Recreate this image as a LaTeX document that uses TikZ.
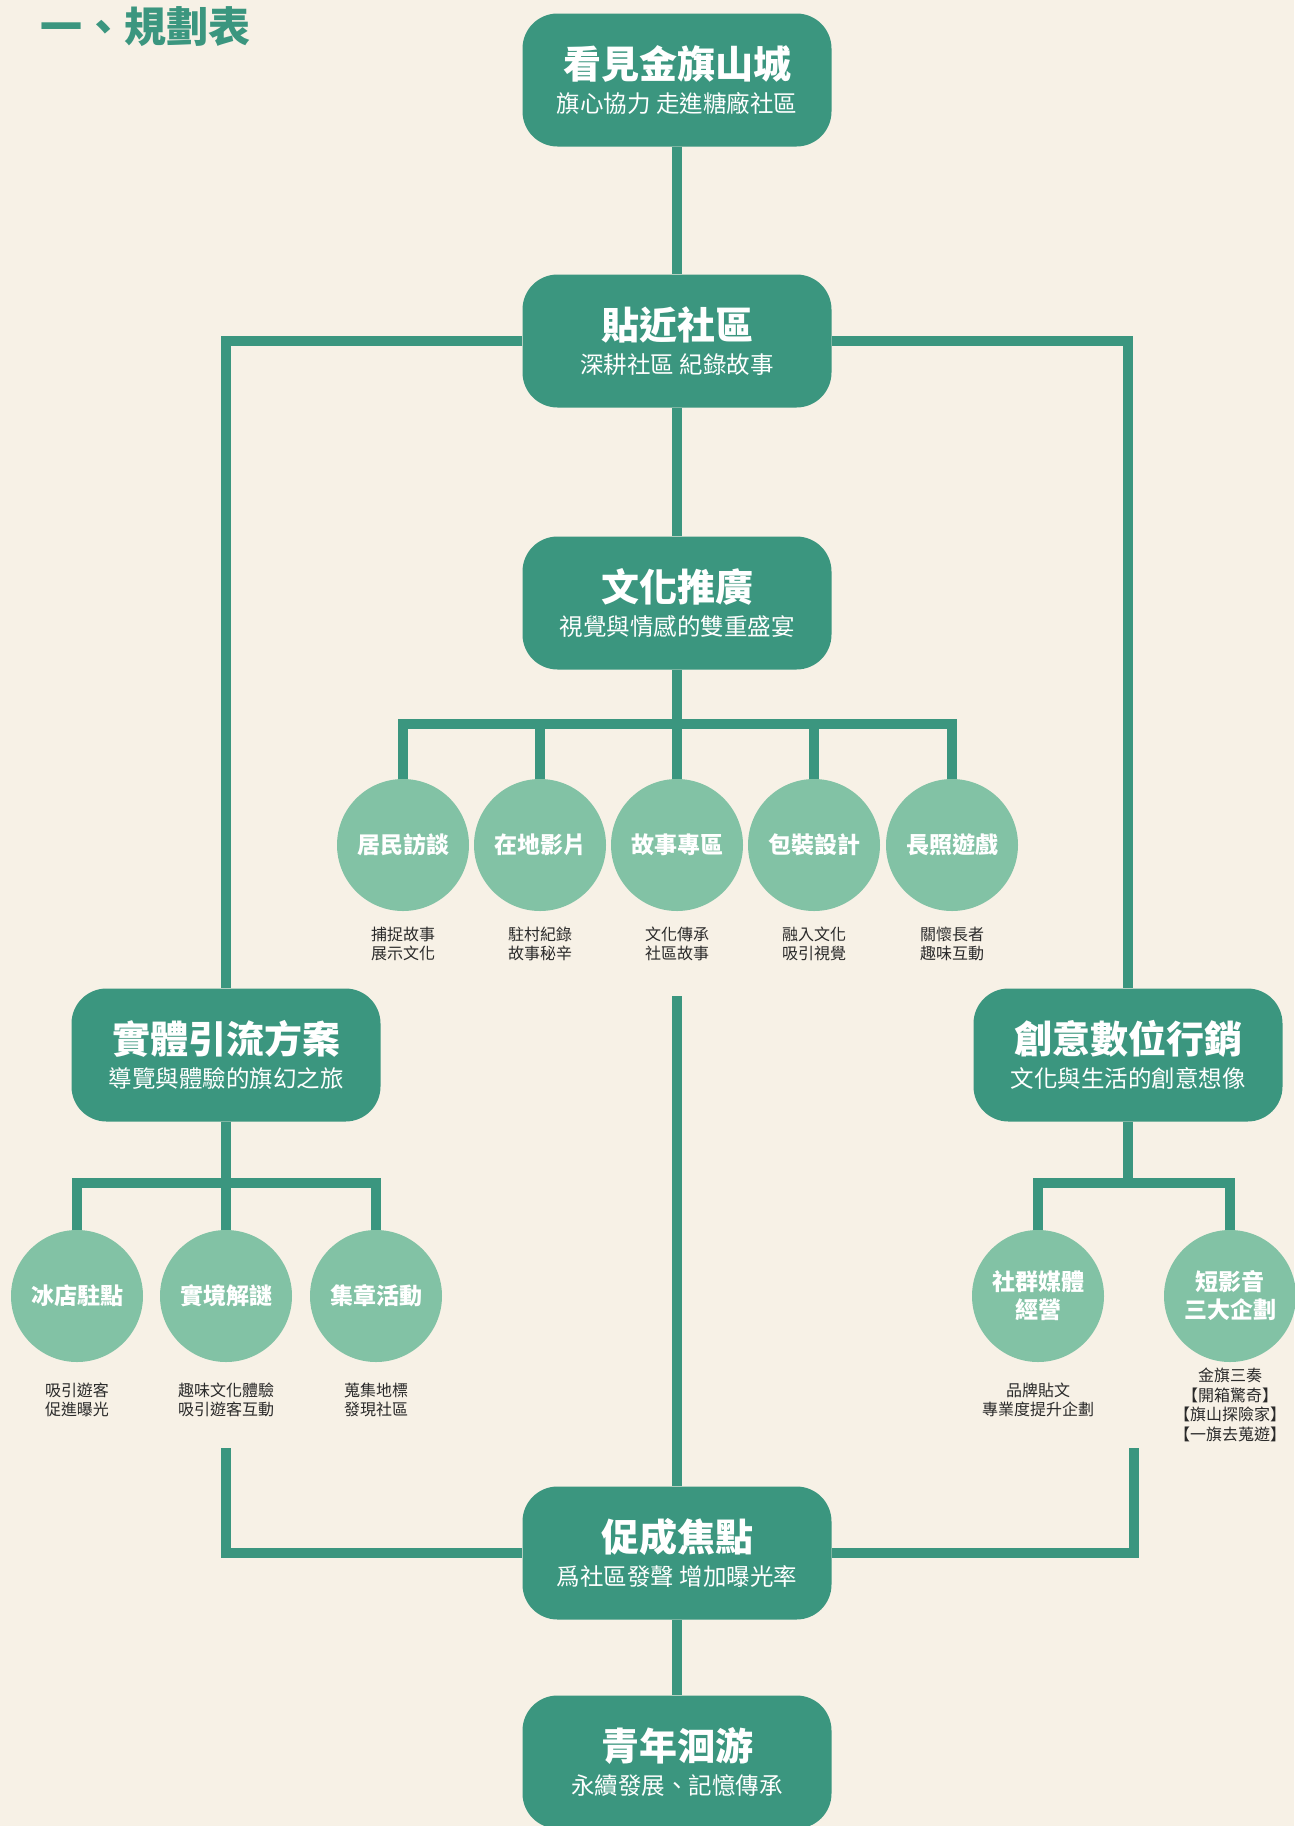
\documentclass[tikz,border=0pt]{standalone}
\usepackage{fontspec}
\usetikzlibrary{backgrounds}
\setmainfont{Noto Sans CJK TC}
\definecolor{bg}{HTML}{F7F1E6}
\definecolor{tealbox}{HTML}{3B967F}
\definecolor{mint}{HTML}{82C2A5}
\definecolor{ink}{HTML}{2A2A2A}
\newcommand{\bxtext}[2]{{\fontsize{38}{42}\selectfont\bfseries #1}\\[9pt]{\fontsize{23.5}{27}\selectfont #2}}
\begin{document}
\begin{tikzpicture}[x=1pt,y=-1pt,
  box/.style={fill=tealbox, rounded corners=35pt, minimum width=309pt, minimum height=133pt, text=white, align=center, inner sep=0pt},
  circ/.style={circle, fill=mint, minimum size=132pt, inner sep=0pt, text=white, align=center, font=\bfseries\fontsize{23}{28}\selectfont},
  desc/.style={text=ink, align=center, font=\fontsize{16}{19.5}\selectfont},
  conn/.style={draw=tealbox, line width=9.5pt}]
\useasboundingbox (0,0) rectangle (1294,1826);
\begin{scope}[on background layer]
\fill[bg] (0,0) rectangle (1294,1826);
\end{scope}

% title
\node[anchor=west, text=tealbox, inner sep=0pt, font=\bfseries\fontsize{42}{46}\selectfont] (title) at (40,27) {一、規劃表};

% main boxes
\node[box] (top) at (677,80) {\bxtext{看見金旗山城}{旗心協力 走進糖廠社區}};
\node[box] (near) at (677,341) {\bxtext{貼近社區}{深耕社區 紀錄故事}};
\node[box] (culture) at (677,603) {\bxtext{文化推廣}{視覺與情感的雙重盛宴}};
\node[box] (phys) at (226,1055) {\bxtext{實體引流方案}{導覽與體驗的旗幻之旅}};
\node[box] (digi) at (1128,1055) {\bxtext{創意數位行銷}{文化與生活的創意想像}};
\node[box] (focus) at (677,1553) {\bxtext{促成焦點}{爲社區發聲 增加曝光率}};
\node[box] (youth) at (677,1762) {\bxtext{青年洄游}{永續發展、記憶傳承}};

% culture circles
\node[circ] (c1) at (403,845) {居民訪談};
\node[circ] (c2) at (540,845) {在地影片};
\node[circ] (c3) at (677,845) {故事專區};
\node[circ] (c4) at (814,845) {包裝設計};
\node[circ] (c5) at (952,845) {長照遊戲};
\node[desc] (d1) at (403,944) {捕捉故事\\展示文化};
\node[desc] (d2) at (540,944) {駐村紀錄\\故事秘辛};
\node[desc] (d3) at (677,944) {文化傳承\\社區故事};
\node[desc] (d4) at (814,944) {融入文化\\吸引視覺};
\node[desc] (d5) at (952,944) {關懷長者\\趣味互動};

% physical circles
\node[circ] (p1) at (77,1296) {冰店駐點};
\node[circ] (p2) at (226,1296) {實境解謎};
\node[circ] (p3) at (376,1296) {集章活動};
\node[desc] (e1) at (77,1400) {吸引遊客\\促進曝光};
\node[desc] (e2) at (226,1400) {趣味文化體驗\\吸引遊客互動};
\node[desc] (e3) at (376,1400) {蒐集地標\\發現社區};

% digital circles
\node[circ] (g1) at (1038,1296) {社群媒體\\經營};
\node[circ] (g2) at (1230,1296) {短影音\\三大企劃};
\node[desc] (f1) at (1038,1400) {品牌貼文\\專業度提升企劃};
\node[desc] (f2) at (1230,1405) {金旗三奏\\【開箱驚奇】\\【旗山探險家】\\【一旗去蒐遊】};

% coordinates
\coordinate (bar1) at (677,724);
\coordinate (bar2) at (226,1183);
\coordinate (bar3) at (1128,1183);
\coordinate (cs) at (677,996);
\coordinate (ls) at (226,1448);
\coordinate (rs) at (1134,1448);

% connectors
\begin{scope}[on background layer]
\draw[conn] (top.south) -- (near.north);
\draw[conn] (near.south) -- (culture.north);
\draw[conn] (culture.south) -- (c3.north);
\draw[conn] (c1.north) |- (bar1) -| (c5.north);
\draw[conn] (c2.north) -- (c2.north |- bar1);
\draw[conn] (c4.north) -- (c4.north |- bar1);
\draw[conn] (near.west) -| (phys.north);
\draw[conn] (near.east) -| (digi.north);
\draw[conn] (phys.south) -- (p2.north);
\draw[conn] (p1.north) |- (bar2) -| (p3.north);
\draw[conn] (digi.south) -- (bar3);
\draw[conn] (g1.north) |- (bar3) -| (g2.north);
\draw[conn] (cs) -- (focus.north);
\draw[conn] (ls) |- (focus.west);
\draw[conn] (rs) |- (focus.east);
\draw[conn] (focus.south) -- (youth.north);
\end{scope}
\end{tikzpicture}
\end{document}
